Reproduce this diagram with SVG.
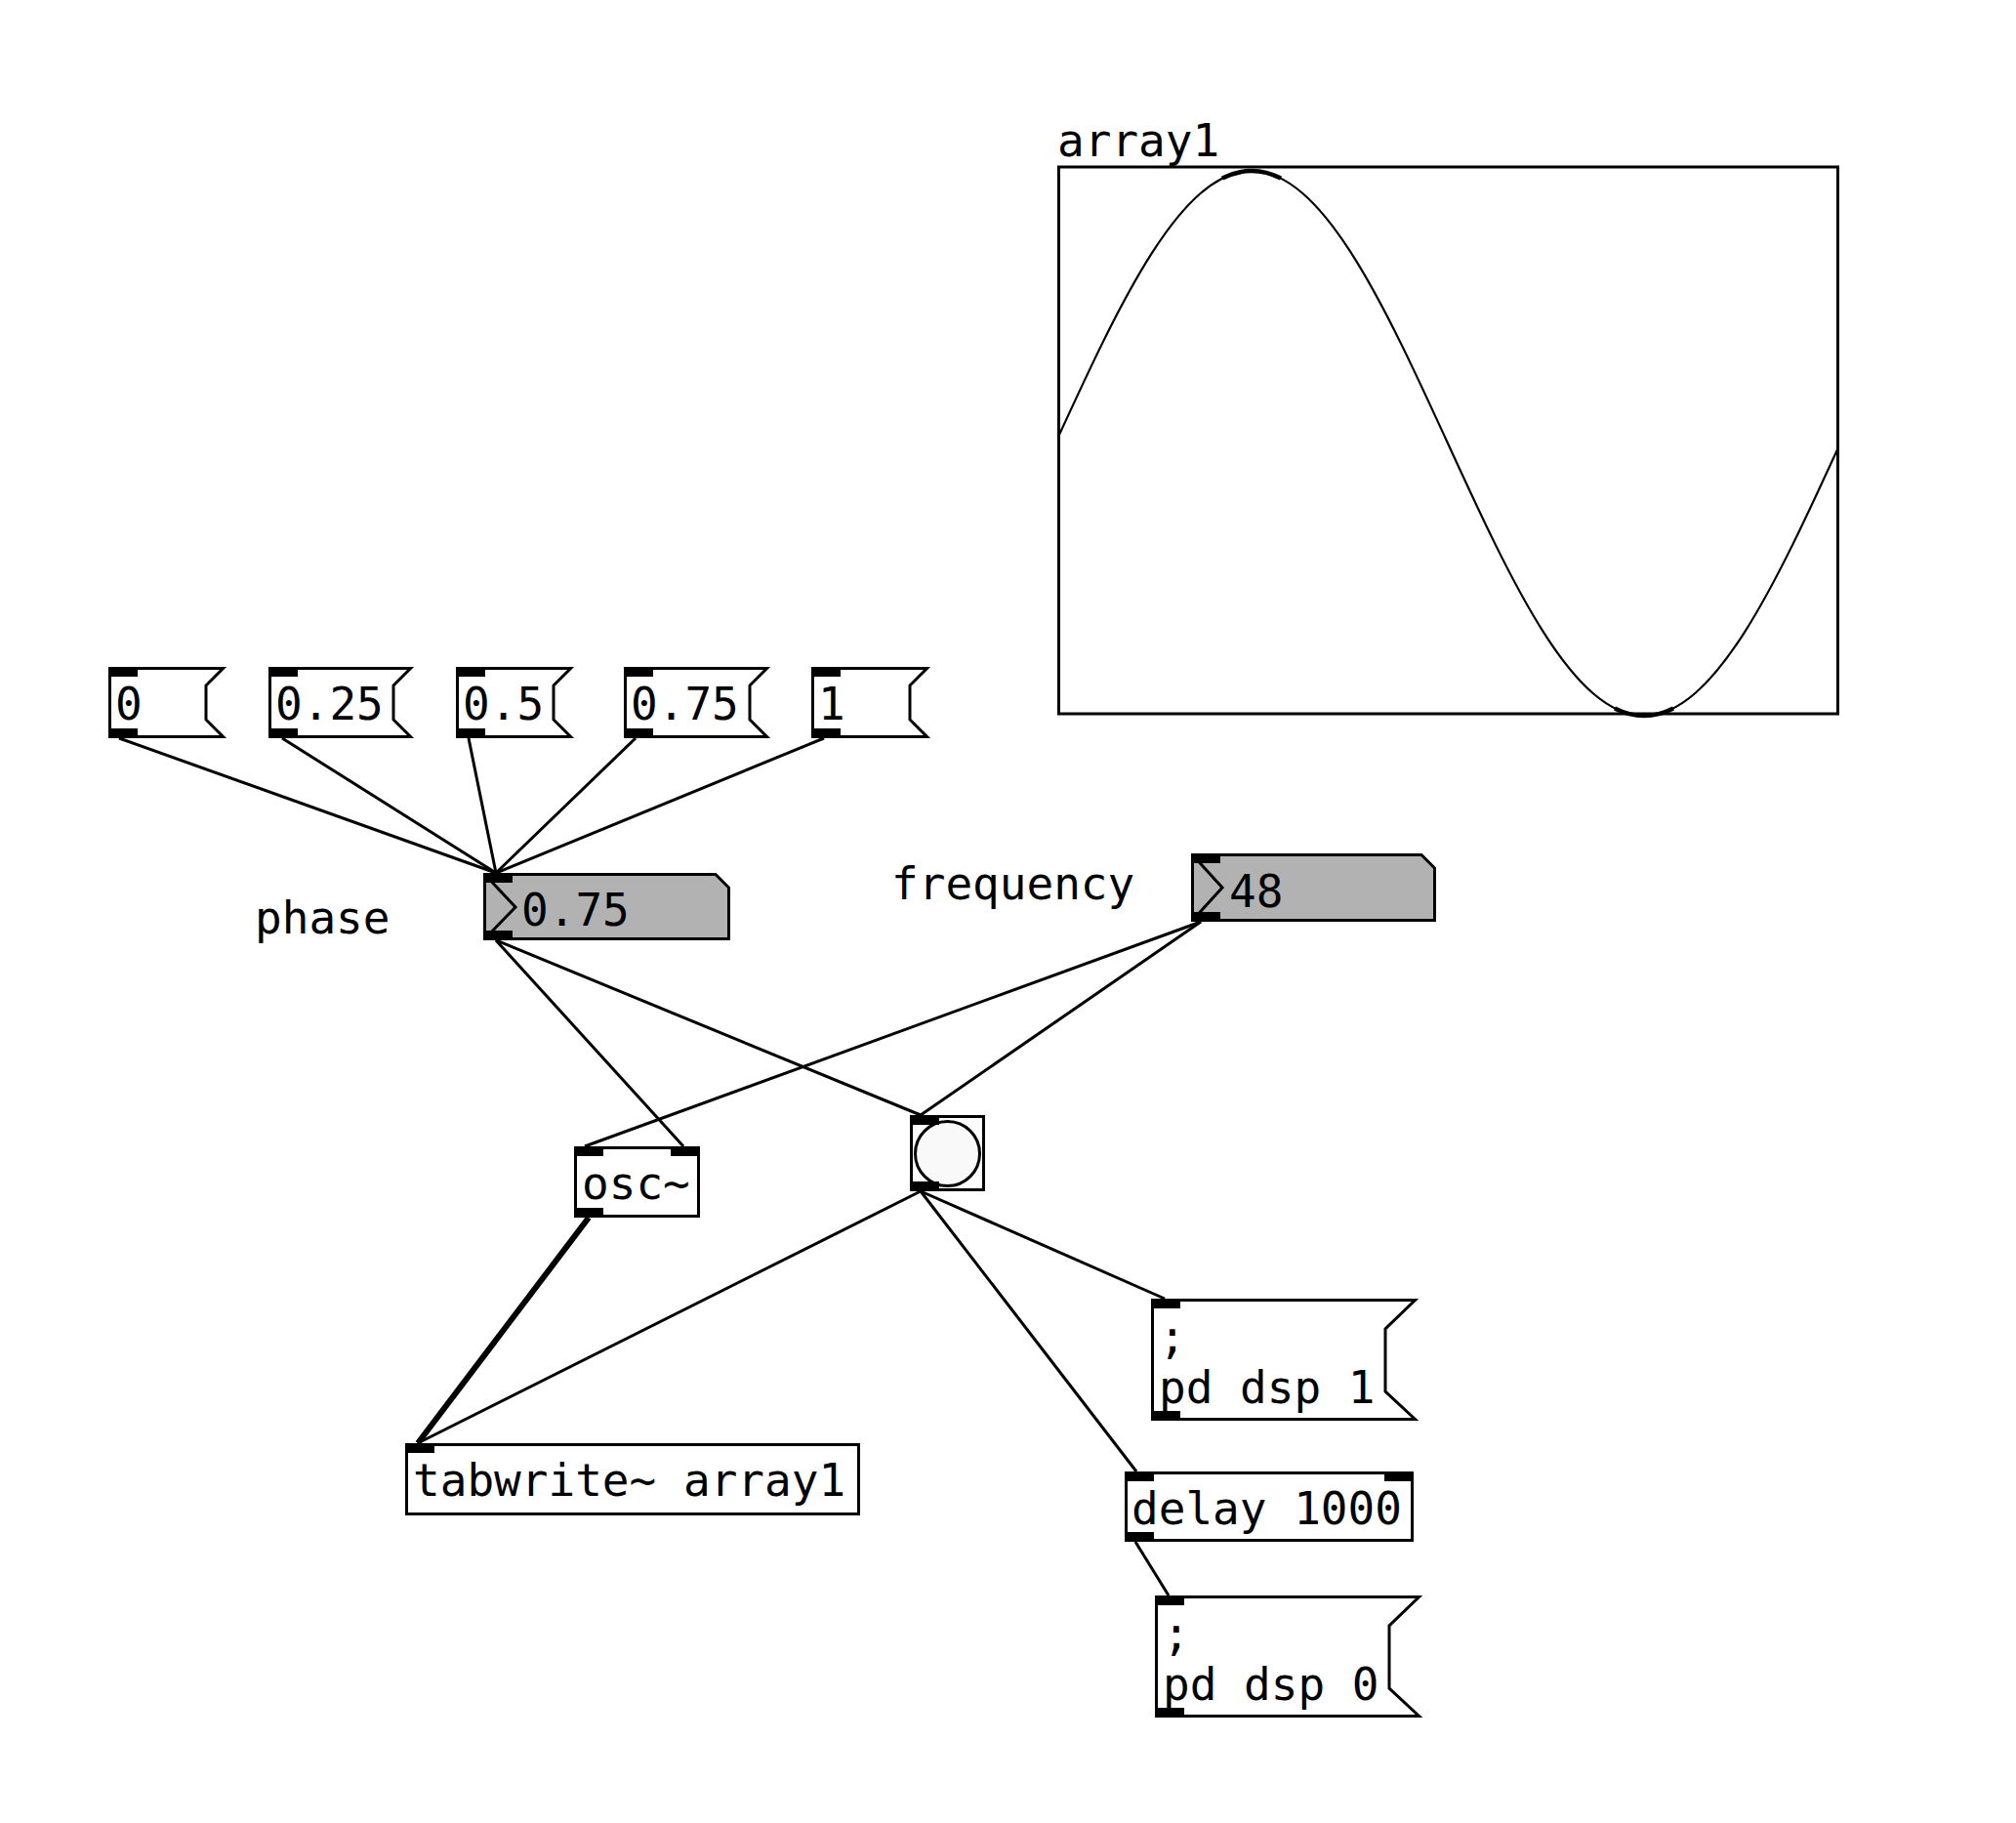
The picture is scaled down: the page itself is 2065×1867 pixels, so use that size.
<svg xmlns="http://www.w3.org/2000/svg" width="2065" height="1867" viewBox="0 0 2065 1867">
<style>
.bx{fill:#fff;stroke:#000;stroke-width:3}
.nb{fill:#b2b2b2;stroke:#000;stroke-width:3}
.tri{fill:none;stroke:#000;stroke-width:3}
.io{fill:#000}
.t{font-family:"DejaVu Sans Mono","Liberation Mono",monospace;font-size:46px;fill:#000}
.c{stroke:#000;stroke-width:3;fill:none}
.sig{stroke:#000;stroke-width:6;fill:none}
.wave{fill:none;stroke:#000}
</style>
<defs>
<clipPath id="clipArr"><rect x="1083" y="160" width="801" height="590"/></clipPath>
</defs>
<rect width="2065" height="1867" fill="#fff"/>
<g id="connectors">
<line class="c" x1="122" y1="756" x2="508" y2="894"/>
<line class="c" x1="289" y1="756" x2="508" y2="894"/>
<line class="c" x1="480" y1="756" x2="508" y2="894"/>
<line class="c" x1="651" y1="756" x2="508" y2="894"/>
<line class="c" x1="844" y1="756" x2="508" y2="894"/>
<line class="c" x1="508" y1="963" x2="700" y2="1174"/>
<line class="c" x1="508" y1="963" x2="943" y2="1142"/>
<line class="c" x1="1230" y1="944" x2="599" y2="1174"/>
<line class="c" x1="1230" y1="944" x2="943" y2="1142"/>
<line class="sig" x1="603" y1="1247" x2="428" y2="1478"/>
<line class="c" x1="943" y1="1220" x2="428" y2="1478"/>
<line class="c" x1="943" y1="1220" x2="1193" y2="1330"/>
<line class="c" x1="943" y1="1220" x2="1164" y2="1507"/>
<line class="c" x1="1163" y1="1579" x2="1197" y2="1634"/>
</g>
<g id="array1">
<text class="t" x="1083" y="160">array1</text>
<rect x="1084.5" y="171" width="798" height="560" fill="#fff" stroke="#000" stroke-width="3"/>
<g clip-path="url(#clipArr)">
<path class="wave" stroke-width="2.2" d="M1081,454 C1146.55,311.1 1209.26,175 1282,175 C1354.74,175 1417.45,311.1 1483,454 C1548.55,596.9 1611.26,733 1684,733 C1756.74,733 1819.45,596.9 1885,454"/>
<path class="wave" stroke-width="4.5" d="M1252,182.6 Q1282,167.4 1312,182.6"/>
<path class="wave" stroke-width="4.5" d="M1654,725.4 Q1684,740.6 1714,725.4"/>
</g>
</g>
<g id="msg0">
<path class="bx" d="M112.5,684.5 H228.5 L211,702 V737 L228.5,754.5 H112.5 Z"/>
<rect class="io" x="111" y="683" width="30" height="10"/><rect class="io" x="111" y="746" width="30" height="10"/>
<text class="t" x="118" y="737">0</text>
</g>
<g id="msg025">
<path class="bx" d="M276.5,684.5 H420.5 L403,702 V737 L420.5,754.5 H276.5 Z"/>
<rect class="io" x="275" y="683" width="30" height="10"/><rect class="io" x="275" y="746" width="30" height="10"/>
<text class="t" x="282" y="737">0.25</text>
</g>
<g id="msg05">
<path class="bx" d="M468.5,684.5 H584.5 L567,702 V737 L584.5,754.5 H468.5 Z"/>
<rect class="io" x="467" y="683" width="30" height="10"/><rect class="io" x="467" y="746" width="30" height="10"/>
<text class="t" x="474" y="737">0.5</text>
</g>
<g id="msg075">
<path class="bx" d="M640.5,684.5 H785.5 L768,702 V737 L785.5,754.5 H640.5 Z"/>
<rect class="io" x="639" y="683" width="30" height="10"/><rect class="io" x="639" y="746" width="30" height="10"/>
<text class="t" x="646" y="737">0.75</text>
</g>
<g id="msg1">
<path class="bx" d="M832.5,684.5 H949.5 L932,702 V737 L949.5,754.5 H832.5 Z"/>
<rect class="io" x="831" y="683" width="30" height="10"/><rect class="io" x="831" y="746" width="30" height="10"/>
<text class="t" x="838" y="737">1</text>
</g>
<g id="label-phase"><text class="t" x="261" y="956">phase</text></g>
<g id="num-phase">
<path class="nb" d="M496.5,895.5 H733 L746.5,909 V961.5 H496.5 Z"/>
<path class="tri" d="M496.5,895.5 L528,929 L496.5,961.5"/>
<rect class="io" x="495" y="894" width="30" height="10"/><rect class="io" x="495" y="953" width="30" height="10"/>
<text class="t" x="534" y="948">0.75</text>
</g>
<g id="label-frequency"><text class="t" x="913" y="921">frequency</text></g>
<g id="num-freq">
<path class="nb" d="M1221.5,875.5 H1456 L1469.5,889 V942.5 H1221.5 Z"/>
<path class="tri" d="M1221.5,875.5 L1252,909 L1221.5,942.5"/>
<rect class="io" x="1220" y="874" width="30" height="10"/><rect class="io" x="1220" y="934" width="30" height="10"/>
<text class="t" x="1259" y="929">48</text>
</g>
<g id="osc">
<rect class="bx" x="589.5" y="1175.5" width="126" height="70"/>
<rect class="io" x="588" y="1174" width="30" height="10"/><rect class="io" x="687" y="1174" width="30" height="10"/>
<rect class="io" x="588" y="1237" width="30" height="10"/>
<text class="t" x="596" y="1228">osc~</text>
</g>
<g id="bang">
<rect x="933.5" y="1143.5" width="74" height="75" fill="#fcfcfc" stroke="#000" stroke-width="3"/>
<circle cx="970.5" cy="1181.5" r="33" fill="#f9f9f9" stroke="#000" stroke-width="3"/>
<rect class="io" x="932" y="1142" width="30" height="10"/><rect class="io" x="932" y="1210" width="30" height="10"/>
</g>
<g id="tabwrite">
<rect class="bx" x="416.5" y="1479.5" width="463" height="71"/>
<rect class="io" x="415" y="1478" width="30" height="10"/>
<text class="t" x="423" y="1532">tabwrite~ array1</text>
</g>
<g id="msg-dsp1">
<path class="bx" d="M1180.5,1331.5 H1449.5 L1419,1361 V1425 L1449.5,1453.5 H1180.5 Z"/>
<rect class="io" x="1179" y="1330" width="30" height="10"/><rect class="io" x="1179" y="1445" width="30" height="10"/>
<text class="t" x="1187" y="1386">;</text>
<text class="t" x="1187" y="1437">pd dsp 1</text>
</g>
<g id="delay">
<rect class="bx" x="1153.5" y="1508.5" width="293" height="69"/>
<rect class="io" x="1152" y="1507" width="30" height="10"/><rect class="io" x="1418" y="1507" width="30" height="10"/>
<rect class="io" x="1152" y="1569" width="30" height="10"/>
<text class="t" x="1159" y="1561">delay 1000</text>
</g>
<g id="msg-dsp0">
<path class="bx" d="M1184.5,1635.5 H1453.5 L1423,1665 V1729 L1453.5,1757.5 H1184.5 Z"/>
<rect class="io" x="1183" y="1634" width="30" height="10"/><rect class="io" x="1183" y="1749" width="30" height="10"/>
<text class="t" x="1191" y="1690">;</text>
<text class="t" x="1191" y="1741">pd dsp 0</text>
</g>
</svg>
